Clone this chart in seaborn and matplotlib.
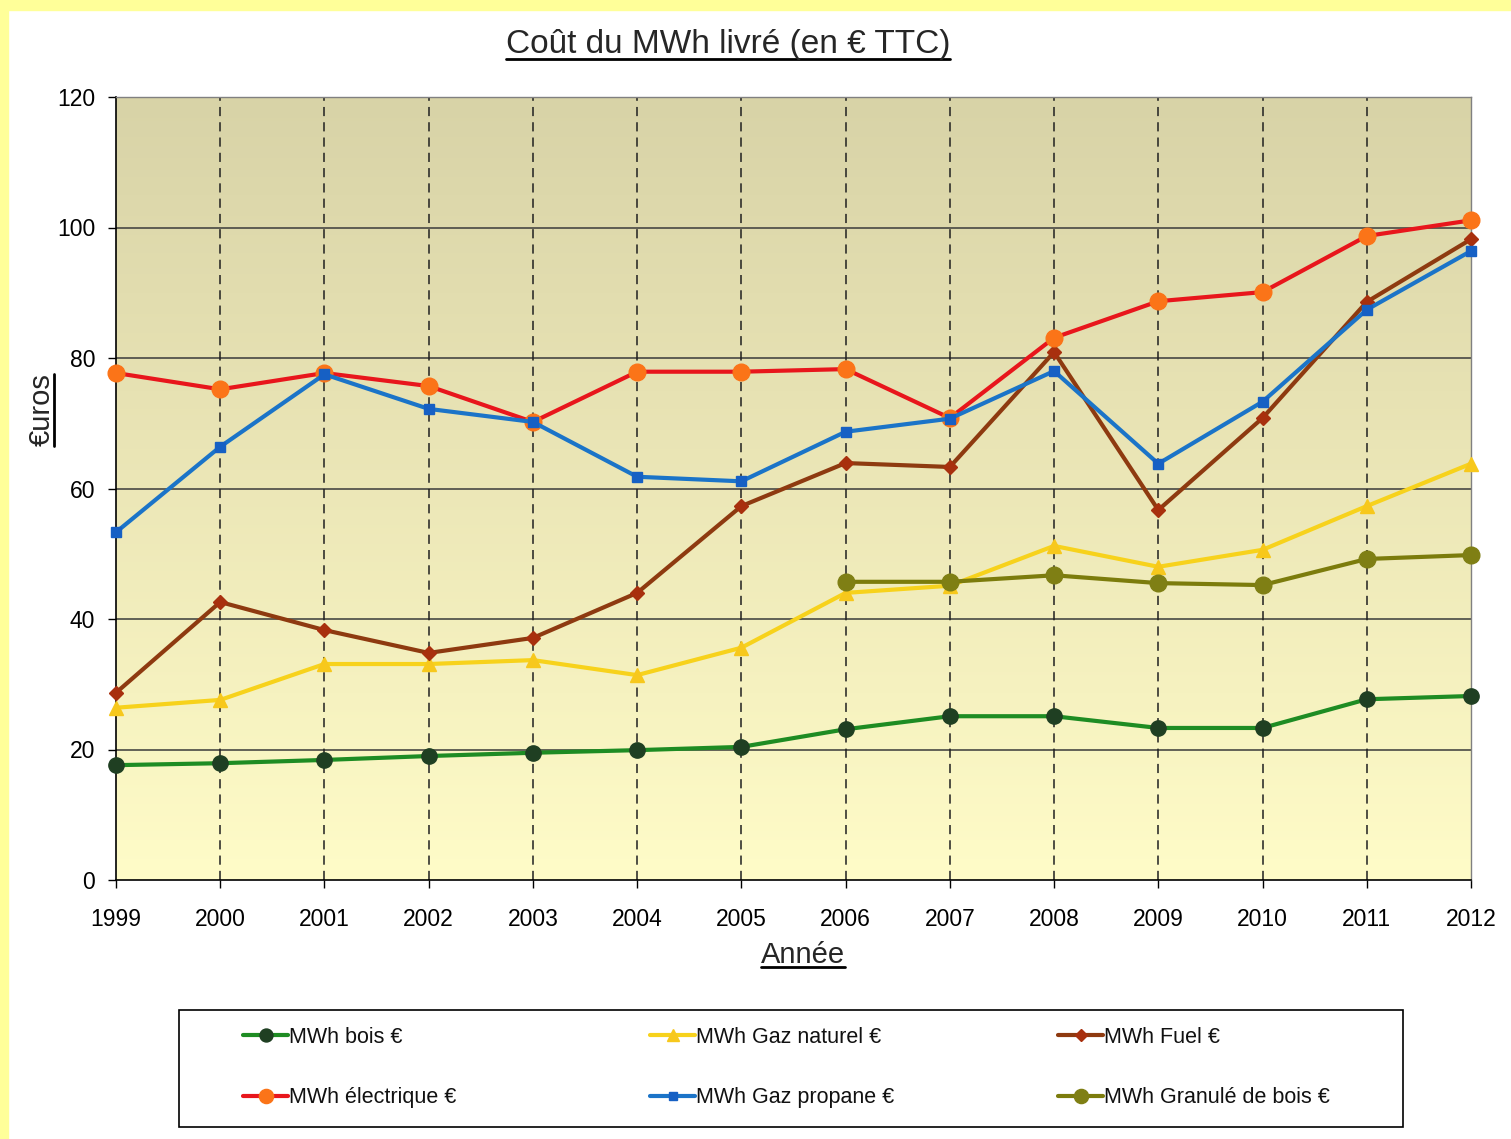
import numpy as np
import pandas as pd
import matplotlib
matplotlib.use("Agg")
import matplotlib.pyplot as plt
from matplotlib.colors import LinearSegmentedColormap
from matplotlib.lines import Line2D
from matplotlib.patches import Rectangle
import seaborn as sns

# ---------------------------------------------------------------
# data (euros TTC per MWh)
# ---------------------------------------------------------------
years = list(range(1999, 2013))
bois = [17.6, 17.9, 18.4, 19.0, 19.5, 19.9, 20.4, 23.1, 25.1, 25.1, 23.3, 23.3, 27.7, 28.2]
gaz_naturel = [26.4, 27.6, 33.1, 33.1, 33.7, 31.4, 35.6, 44.0, 45.1, 51.2, 48.0, 50.6, 57.3, 63.8]
fuel = [28.7, 42.6, 38.3, 34.8, 37.1, 44.0, 57.3, 63.9, 63.3, 80.9, 56.7, 70.8, 88.6, 98.2]
electrique = [77.7, 75.2, 77.7, 75.7, 70.2, 77.9, 77.9, 78.3, 70.8, 83.1, 88.7, 90.1, 98.7, 101.1]
propane = [53.3, 66.4, 77.5, 72.2, 70.2, 61.8, 61.1, 68.7, 70.7, 78.0, 63.8, 73.3, 87.4, 96.4]
granule_years = list(range(2006, 2013))
granule = [45.7, 45.7, 46.7, 45.5, 45.2, 49.2, 49.8]

y_ticks = [0, 20, 40, 60, 80, 100, 120]

series = [
    ("MWh bois €", years, bois,
     dict(color="#1e8c23", marker="o", ms=11, mfc="#1f3f22", mec="#1f3f22")),
    ("MWh Gaz naturel €", years, gaz_naturel,
     dict(color="#f7d21c", marker="^", ms=10, mfc="#f7c81c", mec="#f7c81c")),
    ("MWh Fuel €", years, fuel,
     dict(color="#8e3a10", marker="D", ms=7, mfc="#a8300e", mec="#a8300e")),
    ("MWh électrique €", years, electrique,
     dict(color="#e8161c", marker="o", ms=12, mfc="#fb7418", mec="#fb7418")),
    ("MWh Gaz propane €", years, propane,
     dict(color="#1b74c8", marker="s", ms=6.5, mfc="#1660c4", mec="#1660c4")),
    ("MWh Granulé de bois €", granule_years, granule,
     dict(color="#7c7c0c", marker="o", ms=12, mfc="#7f7f14", mec="#7f7f14")),
]

sns.set_style("white")
plt.rcParams["font.family"] = ["Liberation Sans", "DejaVu Sans"]

W, H = 1511, 1139
fig = plt.figure(figsize=(W / 100, H / 100), dpi=100)
fig.patch.set_facecolor("white")
# yellow frame strips (left + top) from the original screenshot
fig.add_artist(Rectangle((0, 0), 8 / W, 1, transform=fig.transFigure,
                         color="#ffff99", zorder=0))
fig.add_artist(Rectangle((0, 1 - 10 / H), 1, 10 / H, transform=fig.transFigure,
                         color="#ffff99", zorder=0))

ax = fig.add_axes([116 / W, 1 - 880 / H, (1471 - 116) / W, (880 - 97) / H])

# gradient plot background
cmap = LinearSegmentedColormap.from_list("bg", ["#d8d3a7", "#ece7b7", "#fffcc8"])
grad = np.linspace(0, 1, 256).reshape(-1, 1)
ax.imshow(grad, cmap=cmap, aspect="auto", extent=[0, 1, 0, 1],
          transform=ax.transAxes, zorder=0, origin="upper")

handles = {}
for label, xs, ys, st in series:
    df = pd.DataFrame({"year": xs, "value": ys})
    sns.lineplot(data=df, x="year", y="value", ax=ax, color=st["color"],
                 linewidth=3, marker=st["marker"], markersize=st["ms"],
                 markerfacecolor=st["mfc"], markeredgecolor=st["mec"],
                 markeredgewidth=1, zorder=3, clip_on=False)
    handles[label] = Line2D([], [], color=st["color"], linewidth=3,
                            marker=st["marker"], markersize=st["ms"] * 0.85,
                            markerfacecolor=st["mfc"], markeredgecolor=st["mec"])

ax.set_xlim(1999, 2012)
ax.set_ylim(0, 120)
ax.set_xticks(years)
ax.set_yticks(y_ticks)
ax.set_xticklabels([str(y) for y in years], fontsize=16.5, color="black")
ax.set_yticklabels([str(t) for t in y_ticks], fontsize=16.5, color="black")
ax.tick_params(axis="both", direction="out", length=6, width=1, color="black",
               bottom=True, left=True)
ax.tick_params(axis="x", pad=14)
ax.tick_params(axis="y", pad=9)
ax.set_xlabel("")
ax.set_ylabel("")

# grid: solid horizontals, dashed verticals
for t in y_ticks[1:-1]:
    ax.axhline(t, color="#3a3a3a", linewidth=1.1, zorder=1)
ax.axhline(120, color="#6a6a6a", linewidth=1.1, zorder=1)
for y in years[1:-1]:
    ax.axvline(y, color="#202020", linewidth=1.1, linestyle=(0, (6, 4)), zorder=1)

for side in ["top", "right"]:
    ax.spines[side].set_color("#808080")
    ax.spines[side].set_linewidth(1)
for side in ["left", "bottom"]:
    ax.spines[side].set_color("black")
    ax.spines[side].set_linewidth(1.2)

# texts
title = fig.text(728 / W, 1 - 45 / H, "Coût du MWh livré (en € TTC)",
                 fontsize=24, ha="center", va="center")
xlab = fig.text(803 / W, 1 - 955 / H, "Année", fontsize=21, ha="center", va="center")
ylab = fig.text(42 / W, 1 - 410 / H, "€uros", fontsize=21, ha="center", va="center",
                rotation=90)

# legend: one frame, three columns placed like the original
fig.add_artist(Rectangle((179 / W, 1 - 1127 / H), (1403 - 179) / W, (1127 - 1010) / H,
                         transform=fig.transFigure, facecolor="white",
                         edgecolor="black", linewidth=1.2, zorder=2))
columns = [(243, ["MWh bois €", "MWh électrique €"]),
           (650, ["MWh Gaz naturel €", "MWh Gaz propane €"]),
           (1058, ["MWh Fuel €", "MWh Granulé de bois €"])]
for x0, labels in columns:
    leg = fig.legend([handles[k] for k in labels], labels, loc="center left",
                     bbox_to_anchor=(x0 / W, 1 - 1067.5 / H),
                     bbox_transform=fig.transFigure, fontsize=15.5, frameon=False,
                     handlelength=2.1, handletextpad=0.05, labelspacing=1.85,
                     borderpad=0, borderaxespad=0)
    leg.set_zorder(3)
    for txt in leg.get_texts():
        txt.set_color("#111111")

# underline the three labels
fig.canvas.draw()
inv = fig.transFigure.inverted()
for t, vertical in [(title, False), (xlab, False), (ylab, True)]:
    bb = t.get_window_extent().transformed(inv)
    if vertical:
        x = bb.x1 - 2 / W
        fig.add_artist(Line2D([x, x], [bb.y0, bb.y1], color="black",
                              linewidth=2, transform=fig.transFigure))
    else:
        y = bb.y0 + 2 / H
        fig.add_artist(Line2D([bb.x0, bb.x1], [y, y], color="black",
                              linewidth=2, transform=fig.transFigure))

fig.savefig("out.png", dpi=100)
